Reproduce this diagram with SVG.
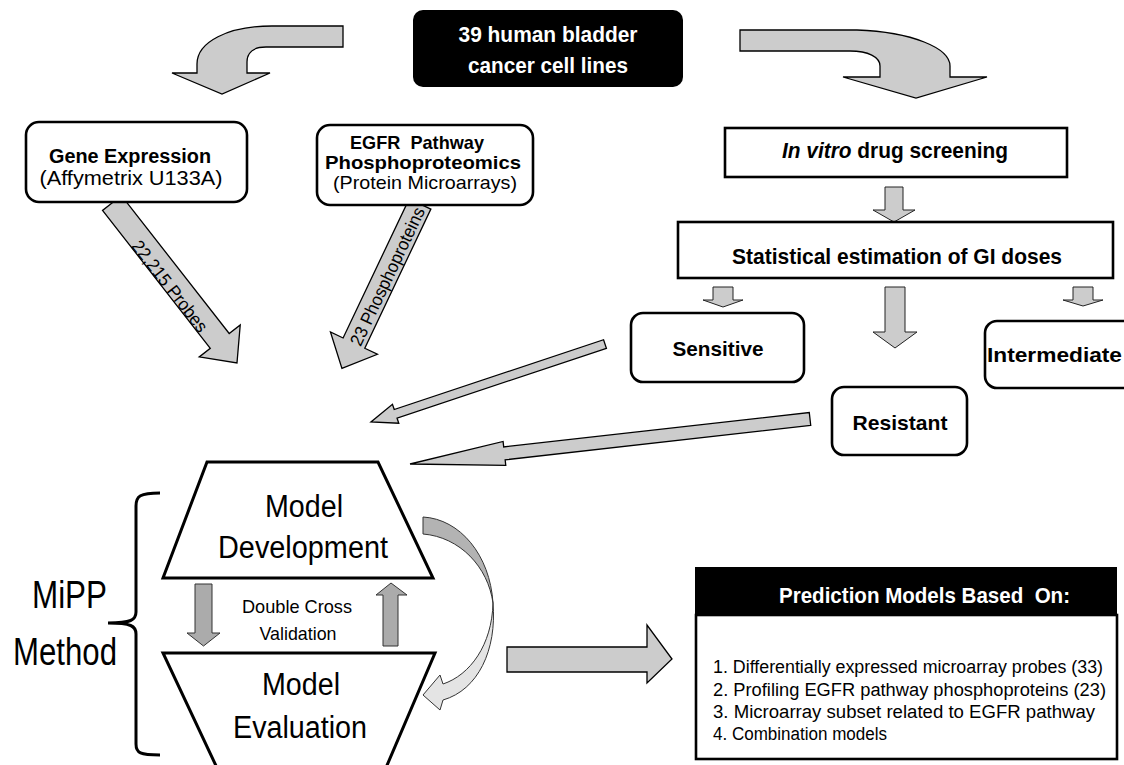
<svg xmlns="http://www.w3.org/2000/svg" width="1124" height="765" viewBox="0 0 1124 765">
<style>
text{font-family:"Liberation Sans Narrow","Arial Narrow","Liberation Sans",Arial,sans-serif;fill:#000}
.b{font-weight:bold}
.w{fill:#fff}
.box{fill:#fff;stroke:#000;stroke-width:2.6}
.arr{fill:#cccccc;stroke:#000;stroke-width:1.3;stroke-linejoin:miter}
.sarr{fill:#cccccc;stroke:#222;stroke-width:1}
.darr{fill:#ababab;stroke:#333;stroke-width:1}
.trap{fill:#fff;stroke:#000;stroke-width:3;stroke-linejoin:miter}
</style>
<rect width="1124" height="765" fill="#fff"/>
<g id="connectors">
<path class="arr" d="M343,26 L272,26 C228,26 197,42 197,64 L197,73 L172,73 L222,94 L270,73 L247,73 L247,62 C247,53 253,47 266,47 L343,47 Z"/>
<path class="arr" d="M740,30 L857,30 C912,32 950,48 950,66 L950,77 L987,77 L916,98 L843,77 L880,77 L880,66 C880,57 868,51 850,51 L740,51 Z"/>
<path class="arr" d="M0,-12 H175 V-26 L203,0 L175,26 V12 H0 Z" transform="translate(112,203) rotate(52)"/>
<path class="arr" d="M0,-12 H154 V-26 L182,0 L154,26 V12 H0 Z" transform="translate(420,204) rotate(115.4)"/>
<path class="sarr" d="M885,187 H903 V210 H915 L894,222 L873,210 H885 Z"/>
<path class="sarr" d="M713,287 H733 V300 H743 L723,307 L703,300 H713 Z"/>
<path class="sarr" d="M885,287 H905 V332 H917 L895,348 L873,332 H885 Z"/>
<path class="sarr" d="M1073,287 H1093 V300 H1103 L1083,306 L1063,300 H1073 Z"/>
<path class="arr" d="M0,-4.5 H220.7 V-10 L246.7,0 L220.7,10 V4.5 H0 Z" transform="translate(605,344) rotate(161.57)"/>
<path class="arr" d="M0,-6.5 H307.5 V-12 L402.5,0 L307.5,12 V6.5 H0 Z" transform="translate(810,419) rotate(173.58)"/>
<path class="darr" d="M195,584 H212 V633 H220 L203.5,646 L187,633 H195 Z"/>
<path class="darr" d="M383,646 H398 V595 H407 L391,583 L376,595 H383 Z"/>
<path d="M423,517 C460,519 490,555 493,603 C488,567 460,537 423,534 Z" fill="#b3b3b3" stroke="#333" stroke-width="1"/>
<path d="M493,603 C492,645 470,675 443,684 L440,675 L423,695 L440,710 L443,700 C478,690 497,650 493,603 Z" fill="#e4e4e4" stroke="#333" stroke-width="1"/>
<path class="arr" d="M507,647 H647 V625 L672,659 L647,683 V672 H507 Z"/>
<path d="M160,493 C140,493 136,496 136,506 L136,612 C136,620 131,623 108,623 C131,623 136,626 136,634 L136,744 C136,753 140,755 160,755" fill="none" stroke="#000" stroke-width="3"/>
</g>
<g id="arrow-labels">
<text x="165" y="290" font-size="18" text-anchor="middle" textLength="111" lengthAdjust="spacingAndGlyphs" transform="rotate(52,165,290)">22,215 Probes</text>
<text x="393" y="279" font-size="18" text-anchor="middle" textLength="151" lengthAdjust="spacingAndGlyphs" transform="rotate(-64.6,393,279)">23 Phosphoproteins</text>
</g>
<g id="node-cells">
<rect x="413" y="10" width="270" height="77" rx="10" fill="#000"/>
<text class="b w" x="548" y="42" font-size="22" text-anchor="middle" textLength="179" lengthAdjust="spacingAndGlyphs">39 human bladder</text>
<text class="b w" x="548" y="73" font-size="22" text-anchor="middle" textLength="160" lengthAdjust="spacingAndGlyphs">cancer cell lines</text>
</g>
<g id="node-gene">
<rect class="box" x="26" y="122" width="221" height="80" rx="13"/>
<text class="b" x="130" y="163" font-size="20" text-anchor="middle" textLength="162" lengthAdjust="spacingAndGlyphs">Gene Expression</text>
<text x="131" y="185" font-size="20" text-anchor="middle" textLength="183" lengthAdjust="spacingAndGlyphs">(Affymetrix U133A)</text>
</g>
<g id="node-egfr">
<rect class="box" x="317" y="125" width="216" height="80" rx="13"/>
<text class="b" x="417" y="149" font-size="19" text-anchor="middle" xml:space="preserve" textLength="134" lengthAdjust="spacingAndGlyphs">EGFR  Pathway</text>
<text class="b" x="423" y="169" font-size="19" text-anchor="middle" textLength="196" lengthAdjust="spacingAndGlyphs">Phosphoproteomics</text>
<text x="425" y="189" font-size="19" text-anchor="middle" textLength="184" lengthAdjust="spacingAndGlyphs">(Protein Microarrays)</text>
</g>
<g id="node-invitro">
<rect class="box" x="725" y="128" width="342" height="49"/>
<text class="b" x="895" y="158" font-size="22" text-anchor="middle" textLength="226" lengthAdjust="spacingAndGlyphs"><tspan font-style="italic">In vitro</tspan> drug screening</text>
</g>
<g id="node-stat">
<rect class="box" x="678" y="222" width="435" height="56"/>
<text class="b" x="897" y="264" font-size="22" text-anchor="middle" textLength="330" lengthAdjust="spacingAndGlyphs">Statistical estimation of GI doses</text>
</g>
<g id="node-sensitive">
<rect class="box" x="631" y="313" width="173" height="69" rx="12"/>
<text class="b" x="718" y="356" font-size="21" text-anchor="middle" textLength="91" lengthAdjust="spacingAndGlyphs">Sensitive</text>
</g>
<g id="node-intermediate">
<rect class="box" x="985" y="321" width="150" height="67" rx="12"/>
<text class="b" x="987" y="362" font-size="21" textLength="135" lengthAdjust="spacingAndGlyphs">Intermediate</text>
</g>
<g id="node-resistant">
<rect class="box" x="832" y="387" width="135" height="68" rx="12"/>
<text class="b" x="900" y="430" font-size="21" text-anchor="middle" textLength="95" lengthAdjust="spacingAndGlyphs">Resistant</text>
</g>
<g id="node-mipp">
<text x="32" y="608" font-size="38" textLength="75" lengthAdjust="spacingAndGlyphs">MiPP</text>
<text x="13" y="665" font-size="38" textLength="104" lengthAdjust="spacingAndGlyphs">Method</text>
</g>
<g id="node-development">
<polygon class="trap" points="207,462 378,462 433,578 163,578"/>
<text x="304" y="517" font-size="31" text-anchor="middle" textLength="78" lengthAdjust="spacingAndGlyphs">Model</text>
<text x="303" y="558" font-size="31" text-anchor="middle" textLength="170" lengthAdjust="spacingAndGlyphs">Development</text>
</g>
<g id="node-evaluation">
<polygon class="trap" points="163,653 435,653 385,770 218,770"/>
<text x="301" y="695" font-size="31" text-anchor="middle" textLength="78" lengthAdjust="spacingAndGlyphs">Model</text>
<text x="300" y="738" font-size="31" text-anchor="middle" textLength="134" lengthAdjust="spacingAndGlyphs">Evaluation</text>
</g>
<g id="node-dcv">
<text x="297" y="613" font-size="19" text-anchor="middle" textLength="110" lengthAdjust="spacingAndGlyphs">Double Cross</text>
<text x="298" y="640" font-size="19" text-anchor="middle" textLength="77" lengthAdjust="spacingAndGlyphs">Validation</text>
</g>
<g id="node-prediction">
<rect x="695" y="567" width="422" height="48" fill="#000"/>
<rect x="696" y="615" width="421" height="144" fill="#fff" stroke="#000" stroke-width="2.6"/>
<text class="b w" x="779" y="603" font-size="22" xml:space="preserve" textLength="291" lengthAdjust="spacingAndGlyphs">Prediction Models Based  On:</text>
<text x="713" y="673" font-size="18" textLength="390" lengthAdjust="spacingAndGlyphs">1. Differentially expressed microarray probes (33)</text>
<text x="713" y="696" font-size="18" textLength="393" lengthAdjust="spacingAndGlyphs">2. Profiling EGFR pathway phosphoproteins (23)</text>
<text x="713" y="718" font-size="18" textLength="382" lengthAdjust="spacingAndGlyphs">3. Microarray subset related to EGFR pathway</text>
<text x="713" y="740" font-size="18" textLength="174" lengthAdjust="spacingAndGlyphs">4. Combination models</text>
</g>
</svg>
